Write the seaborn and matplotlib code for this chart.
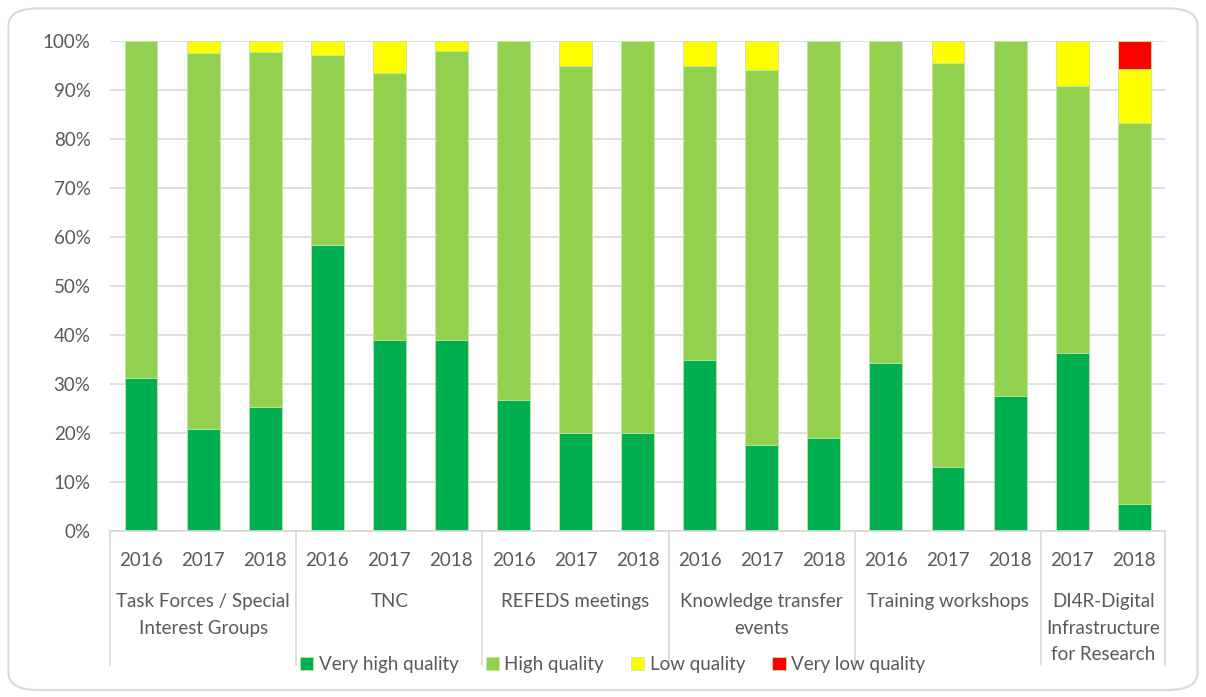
import numpy as np
import pandas as pd
import seaborn as sns
import matplotlib.pyplot as plt
from matplotlib.patches import FancyBboxPatch
from matplotlib.transforms import blended_transform_factory

groups = ["Task Forces / Special\nInterest Groups", "TNC", "REFEDS meetings",
          "Knowledge transfer\nevents", "Training workshops",
          "DI4R-Digital\nInfrastructure\nfor Research"]
group_years = [["2016", "2017", "2018"], ["2016", "2017", "2018"], ["2016", "2017", "2018"],
               ["2016", "2017", "2018"], ["2016", "2017", "2018"], ["2017", "2018"]]

very_high = [31.3, 20.9, 25.4, 58.3, 39.1, 39.1, 26.7, 20.0, 20.0, 35.0, 17.6, 19.0, 34.4, 13.0, 27.6, 36.4, 5.6]
high = [68.7, 76.7, 72.4, 38.9, 54.4, 58.8, 73.3, 75.0, 80.0, 60.0, 76.5, 81.0, 65.6, 82.5, 72.4, 54.5, 77.7]
low = [0.0, 2.4, 2.2, 2.8, 6.5, 2.1, 0.0, 5.0, 0.0, 5.0, 5.9, 0.0, 0.0, 4.5, 0.0, 9.1, 11.1]
very_low = [0.0] * 16 + [5.6]

series_names = ["Very high quality", "High quality", "Low quality", "Very low quality"]
colors = ["#00B050", "#92D050", "#FFFF00", "#FF0000"]
text_col = "#595959"
grid_col = "#D9D9D9"

sns.set_style("white")
plt.rcParams["font.family"] = ["Lato", "DejaVu Sans"]

# one unique key per bar
keys = [f"{g}|{y}" for g, ys in zip(groups, group_years) for y in ys]
years = [y for ys in group_years for y in ys]

stack = np.array([very_high, high, low, very_low])
cum = np.cumsum(stack, axis=0)

fig = plt.figure(figsize=(12.06, 6.97), dpi=100)
ax = fig.add_axes([0.0912, 0.238, 0.875, 0.703])

# draw cumulative layers from the top down so they stack visually
for i in range(3, -1, -1):
    df = pd.DataFrame({"bar": keys, "value": cum[i]})
    sns.barplot(data=df, x="bar", y="value", color=colors[i], saturation=1,
                width=0.53, errorbar=None, linewidth=0.6, edgecolor="#C8E6A8",
                ax=ax, label=series_names[i])

if ax.get_legend() is not None:
    ax.get_legend().remove()

ax.set_xlim(-0.5, len(keys) - 0.5)
ax.set_ylim(0, 100)
ax.set_yticks(np.arange(0, 101, 10))
ax.set_yticklabels([f"{v}%" for v in range(0, 101, 10)])
ax.set_xticks(range(len(keys)))
ax.set_xticklabels(years)
ax.set_xlabel("")
ax.set_ylabel("")
ax.yaxis.grid(True, color=grid_col, linewidth=1.2)
ax.set_axisbelow(True)
for s in ["top", "right", "left"]:
    ax.spines[s].set_visible(False)
ax.spines["bottom"].set_color(grid_col)
ax.spines["bottom"].set_linewidth(1.2)
ax.tick_params(axis="both", length=0, labelsize=13.5, labelcolor=text_col)
ax.tick_params(axis="x", pad=15)
ax.tick_params(axis="y", pad=14)

# group labels and separators under the axis
trans = blended_transform_factory(ax.transData, ax.transAxes)
start = 0
bounds = [-0.5]
for g, ys in zip(groups, group_years):
    center = start + (len(ys) - 1) / 2
    ax.text(center, -0.127, g, transform=trans, ha="center", va="top",
            fontsize=13.5, color=text_col, linespacing=1.66)
    start += len(ys)
    bounds.append(start - 0.5)
for b in bounds:
    ax.plot([b, b], [0, -0.273], transform=trans, clip_on=False, color=grid_col, linewidth=1.2)

handles, labels = ax.get_legend_handles_labels()
order = [labels.index(n) for n in series_names]
fig.legend([handles[k] for k in order], series_names, loc="center", ncol=4,
           bbox_to_anchor=(0.508, 0.047), frameon=False, fontsize=13.5,
           labelcolor=text_col, handlelength=0.7, handleheight=0.7,
           handletextpad=0.3, columnspacing=1.45)

border = FancyBboxPatch((0.007, 0.01), 0.986, 0.978, transform=fig.transFigure,
                        boxstyle="round,pad=0,rounding_size=0.025",
                        facecolor="none", edgecolor=grid_col, linewidth=1.5)
fig.patches.append(border)

fig.savefig("out.png", dpi=100)
